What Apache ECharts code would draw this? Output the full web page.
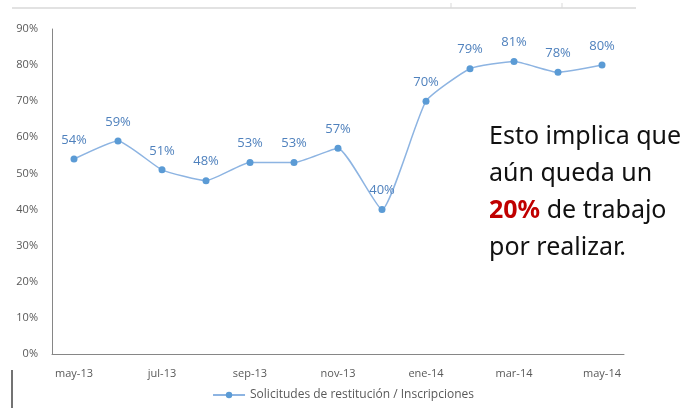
<!DOCTYPE html>
<html>
<head>
<meta charset="utf-8">
<script src="https://cdn.jsdelivr.net/npm/echarts@6/dist/echarts.min.js"></script>
<style>
  html, body { margin: 0; padding: 0; background: #fff; }
  #chart { width: 686px; height: 408px; }
</style>
</head>
<body>
<div id="chart"></div>
<script>
// meses del eje x
const months = ['may-13', 'jun-13', 'jul-13', 'ago-13', 'sep-13', 'oct-13', 'nov-13',
  'dic-13', 'ene-14', 'feb-14', 'mar-14', 'abr-14', 'may-14']
// solicitudes de restitución / inscripciones (%)
const ratio = [54, 59, 51, 48, 53, 53, 57, 40, 70, 79, 81, 78, 80]
const seriesName = 'Solicitudes de restitución / Inscripciones'
const noteLines = ['Esto implica que', 'aún queda un', '{r|20%} de trabajo', 'por realizar.']

let chart = echarts.init(document.getElementById('chart'))

let option = {
  animation: false,
  grid: {
    left: 52,
    right: 62,
    top: 29,
    bottom: 54
  },
  xAxis: {
    type: 'category',
    data: months,
    boundaryGap: true,
    axisLine: { lineStyle: { color: '#868686', width: 1 } },
    axisTick: { show: false },
    axisLabel: {
      interval: 1,
      color: '#595959',
      fontFamily: 'Open Sans',
      fontSize: 11,
      margin: 14
    }
  },
  yAxis: {
    type: 'value',
    min: 0,
    max: 90,
    interval: 10,
    axisLine: { show: true, lineStyle: { color: '#868686', width: 1 } },
    axisTick: { show: false },
    splitLine: { show: false },
    axisLabel: {
      color: '#595959',
      fontFamily: 'Open Sans',
      fontSize: 11,
      margin: 14,
      formatter: '{value}%'
    }
  },
  legend: {
    bottom: 2,
    left: 'center',
    itemWidth: 32,
    itemHeight: 8,
    itemGap: 6,
    textStyle: { color: '#595959', fontFamily: 'Open Sans', fontSize: 12 },
    data: [seriesName]
  },
  series: [
    {
      name: seriesName,
      type: 'line',
      data: ratio,
      smooth: 0.15,
      symbol: 'circle',
      symbolSize: 7,
      lineStyle: { color: '#8db4e2', width: 1.5 },
      itemStyle: { color: '#5b9bd5' },
      label: {
        show: true,
        position: 'top',
        distance: 9,
        color: '#4f81bd',
        fontFamily: 'Open Sans',
        fontSize: 13,
        formatter: '{c}%'
      }
    }
  ],
  graphic: [
    {
      type: 'line',
      shape: { x1: 12, y1: 8, x2: 636, y2: 8 },
      style: { stroke: '#d9d9d9', lineWidth: 1.5 }
    },
    {
      type: 'line',
      shape: { x1: 451, y1: 3, x2: 451, y2: 8 },
      style: { stroke: '#d9d9d9', lineWidth: 1 }
    },
    {
      type: 'line',
      shape: { x1: 562, y1: 3, x2: 562, y2: 8 },
      style: { stroke: '#d9d9d9', lineWidth: 1 }
    },
    {
      type: 'line',
      shape: { x1: 12, y1: 370, x2: 12, y2: 408 },
      style: { stroke: '#444', lineWidth: 1.5 }
    },
    {
      type: 'text',
      left: 489,
      top: 118,
      style: {
        text: noteLines.join('\n'),
        fontFamily: 'Noto Sans',
        fontSize: 25,
        lineHeight: 37,
        fill: '#111',
        rich: {
          r: { fontFamily: 'Noto Sans', fontSize: 25, fontWeight: 'bold', fill: '#c00000', lineHeight: 37 }
        }
      }
    }
  ]
}

chart.setOption(option)
</script>
</body>
</html>
